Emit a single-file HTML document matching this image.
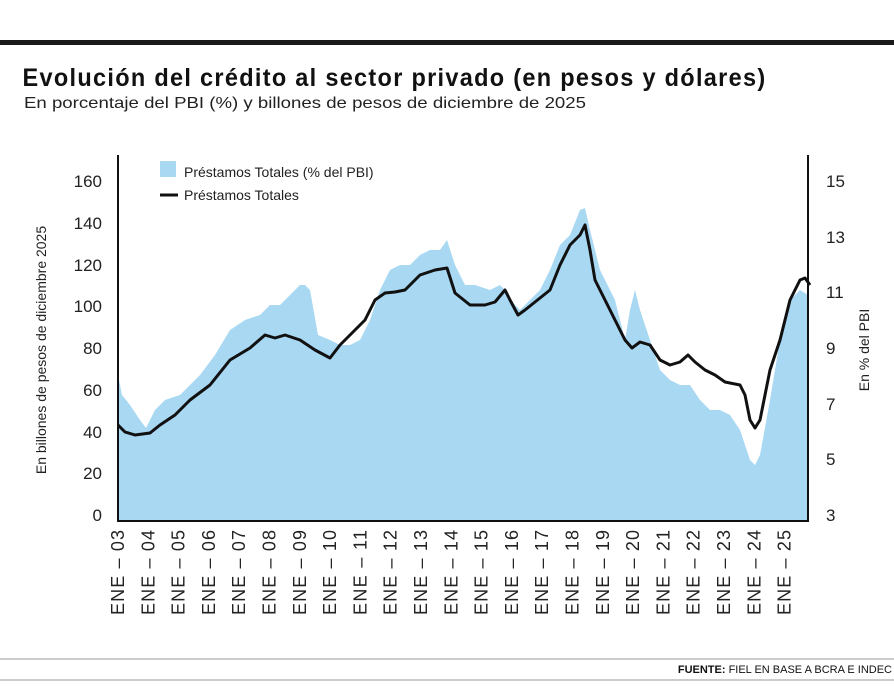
<!DOCTYPE html>
<html><head><meta charset="utf-8"><style>
body{margin:0;background:#fff;width:894px;height:682px;overflow:hidden;font-family:"Liberation Sans",sans-serif;}
</style></head><body>
<svg width="894" height="682" viewBox="0 0 894 682" xmlns="http://www.w3.org/2000/svg" font-family="Liberation Sans, sans-serif">
<rect x="0" y="40" width="894" height="5" fill="#1a1a1a"/>
<text x="24" y="86" font-size="25" font-weight="bold" fill="#111" transform="scale(0.94,1)" textLength="790">Evolución del crédito al sector privado (en pesos y dólares)</text>
<text x="24" y="108" font-size="16" fill="#222" textLength="562" lengthAdjust="spacingAndGlyphs">En porcentaje del PBI (%) y billones de pesos de diciembre de 2025</text>
<polygon fill="#a9d8f3" points="118,520 118,375 122,395 130,405 140,420 146,428 155,410 165,400 180,395 190,385 200,375 215,355 230,330 245,320 260,315 270,305 280,305 290,295 300,285 305,285 310,290 318,335 330,340 340,345 350,345 360,340 370,320 380,290 390,270 400,265 410,265 420,255 430,250 440,250 447,240 455,265 465,285 475,285 490,290 500,285 505,290 510,300 520,310 530,300 540,290 550,270 560,245 570,235 580,210 585,208 590,230 595,250 600,270 610,290 615,300 620,320 625,340 630,310 635,290 640,310 650,340 660,370 670,380 680,385 690,385 700,400 710,410 720,410 730,415 740,430 745,445 750,460 755,465 760,455 770,400 780,340 790,300 800,290 808,295 808,520"/>
<polyline fill="none" stroke="#111" stroke-width="3" stroke-linejoin="round" points="118,425 125,432 135,435 150,433 160,425 175,415 190,400 210,385 230,360 250,348 265,335 275,338 285,335 300,340 315,350 330,358 340,345 350,335 365,320 375,300 385,293 395,292 405,290 420,275 435,270 447,268 455,293 470,305 485,305 495,302 505,290 510,300 518,315 525,310 540,298 550,290 560,265 570,245 580,235 585,225 590,250 595,280 605,300 615,320 625,340 632,348 640,342 650,345 660,360 670,365 680,362 688,355 695,362 705,370 715,375 725,382 740,385 745,395 750,420 755,428 760,420 770,370 780,340 790,300 800,280 805,278 810,285"/>
<line x1="118" y1="155" x2="118" y2="521" stroke="#111" stroke-width="2"/>
<line x1="808" y1="155" x2="808" y2="521" stroke="#111" stroke-width="2"/>
<line x1="117" y1="521" x2="809" y2="521" stroke="#111" stroke-width="2"/>
<g font-size="17" fill="#222" text-anchor="end">
<text x="102" y="187">160</text><text x="102" y="229">140</text><text x="102" y="271">120</text><text x="102" y="312">100</text><text x="102" y="354">80</text><text x="102" y="396">60</text><text x="102" y="438">40</text><text x="102" y="479">20</text><text x="102" y="521">0</text>
</g>
<g font-size="17" fill="#222">
<text x="826" y="187">15</text><text x="826" y="243">13</text><text x="826" y="298">11</text><text x="826" y="354">9</text><text x="826" y="410">7</text><text x="826" y="465">5</text><text x="826" y="521">3</text>
</g>
<text transform="translate(46,350) rotate(-90)" font-size="14" fill="#222" text-anchor="middle">En billones de pesos de diciembre 2025</text>
<text transform="translate(869,350) rotate(-90)" font-size="14" fill="#222" text-anchor="middle">En % del PBI</text>
<rect x="160" y="161" width="16" height="16" fill="#a9d8f3"/>
<text x="184" y="177" font-size="14" fill="#222">Préstamos Totales (% del PBI)</text>
<line x1="160" y1="195" x2="178" y2="195" stroke="#111" stroke-width="3"/>
<text x="184" y="200" font-size="14" fill="#222">Préstamos Totales</text>
<g font-size="18" fill="#222" text-anchor="end">
<text transform="translate(124,530) rotate(-90)" textLength="85">ENE – 03</text>
<text transform="translate(154.3,530) rotate(-90)" textLength="85">ENE – 04</text>
<text transform="translate(184.6,530) rotate(-90)" textLength="85">ENE – 05</text>
<text transform="translate(214.9,530) rotate(-90)" textLength="85">ENE – 06</text>
<text transform="translate(245.2,530) rotate(-90)" textLength="85">ENE – 07</text>
<text transform="translate(275.5,530) rotate(-90)" textLength="85">ENE – 08</text>
<text transform="translate(305.8,530) rotate(-90)" textLength="85">ENE – 09</text>
<text transform="translate(336.1,530) rotate(-90)" textLength="85">ENE – 10</text>
<text transform="translate(366.4,530) rotate(-90)" textLength="85">ENE – 11</text>
<text transform="translate(396.7,530) rotate(-90)" textLength="85">ENE – 12</text>
<text transform="translate(427,530) rotate(-90)" textLength="85">ENE – 13</text>
<text transform="translate(457.3,530) rotate(-90)" textLength="85">ENE – 14</text>
<text transform="translate(487.6,530) rotate(-90)" textLength="85">ENE – 15</text>
<text transform="translate(517.9,530) rotate(-90)" textLength="85">ENE – 16</text>
<text transform="translate(548.2,530) rotate(-90)" textLength="85">ENE – 17</text>
<text transform="translate(578.5,530) rotate(-90)" textLength="85">ENE – 18</text>
<text transform="translate(608.8,530) rotate(-90)" textLength="85">ENE – 19</text>
<text transform="translate(639.1,530) rotate(-90)" textLength="85">ENE – 20</text>
<text transform="translate(669.4,530) rotate(-90)" textLength="85">ENE – 21</text>
<text transform="translate(699.7,530) rotate(-90)" textLength="85">ENE – 22</text>
<text transform="translate(730,530) rotate(-90)" textLength="85">ENE – 23</text>
<text transform="translate(760.3,530) rotate(-90)" textLength="85">ENE – 24</text>
<text transform="translate(790.6,530) rotate(-90)" textLength="85">ENE – 25</text>
</g>
<line x1="0" y1="659" x2="894" y2="659" stroke="#bbb" stroke-width="1.5"/>
<line x1="0" y1="680" x2="894" y2="680" stroke="#bbb" stroke-width="1.5"/>
<text x="892" y="673" font-size="11" fill="#111" text-anchor="end"><tspan font-weight="bold">FUENTE:</tspan> FIEL EN BASE A BCRA E INDEC</text>
</svg>
</body></html>
